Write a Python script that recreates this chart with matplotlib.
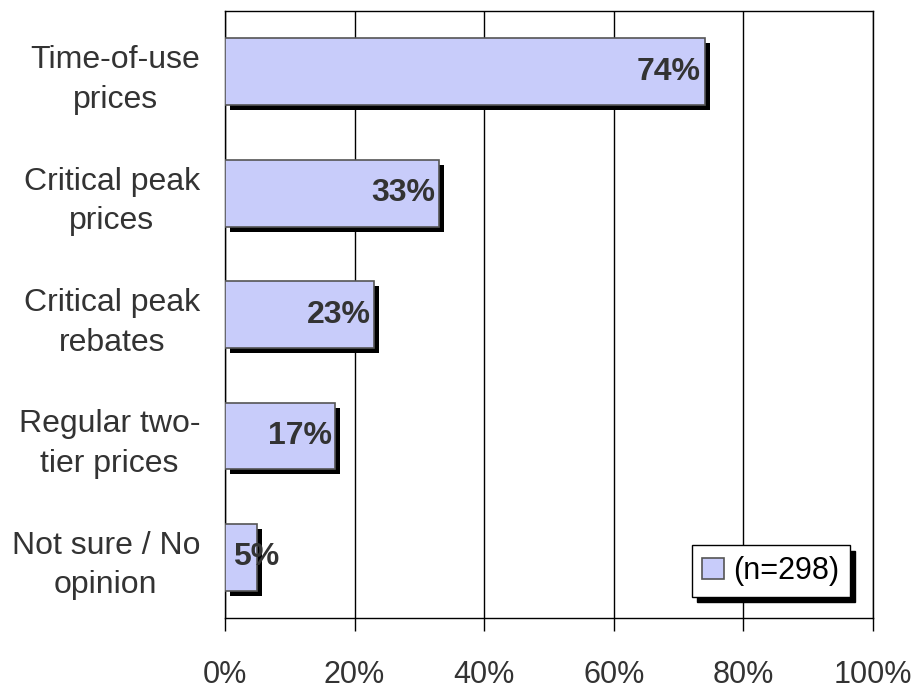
import matplotlib.pyplot as plt
from matplotlib.transforms import ScaledTranslation

plt.rcParams['font.family'] = ['Liberation Sans', 'DejaVu Sans']

categories = ['Time-of-use\nprices', 'Critical peak\nprices', 'Critical peak\nrebates',
              'Regular two-\ntier prices', 'Not sure / No\nopinion']
values = [74, 33, 23, 17, 5]
xticks = [0, 20, 40, 60, 80, 100]
xtick_labels = ['0%', '20%', '40%', '60%', '80%', '100%']
legend_label = '(n=298)'

bar_color = '#c8ccfa'
text_color = '#333333'

fig = plt.figure(figsize=(9.17, 6.9), dpi=100)
ax = fig.add_axes([0.2454, 0.1043, 0.7066, 0.8797])

pos = list(range(len(categories)))

# black drop shadow behind each bar
shadow = ax.barh(pos, values, height=0.55, color='black', zorder=2)
off = ScaledTranslation(5 / 100, -5 / 100, fig.dpi_scale_trans)
for p in shadow:
    p.set_transform(ax.transData + off)

bars = ax.barh(pos, values, height=0.55, color=bar_color, edgecolor='#555555',
               linewidth=1.2, zorder=3, label=legend_label)

# value labels inside the bar end, pushed right when the bar is short
for i, v in enumerate(values):
    if v < 10:
        ax.annotate(f'{v}%', (0, i), xytext=(6, 0), textcoords='offset points',
                    ha='left', va='center', fontsize=23, fontweight='bold',
                    color=text_color, zorder=4)
    else:
        ax.annotate(f'{v}%', (v, i), xytext=(-2.5, 0), textcoords='offset points',
                    ha='right', va='center', fontsize=23, fontweight='bold',
                    color=text_color, zorder=4)

ax.set_xlim(0, 100)
ax.set_ylim(len(categories) - 0.5, -0.5)
ax.set_xticks(xticks)
ax.set_xticklabels(xtick_labels, fontsize=22, color=text_color)
ax.set_yticks(pos)
ax.set_yticklabels(categories, fontsize=23, color=text_color,
                   multialignment='center', linespacing=1.42)
ax.tick_params(axis='x', length=9, width=1, pad=21)
ax.tick_params(axis='y', length=0, pad=18)

ax.xaxis.grid(True, color='black', linewidth=1)
ax.set_axisbelow(True)
for s in ax.spines.values():
    s.set_color('black')
    s.set_linewidth(1)

leg = ax.legend(loc='lower right', bbox_to_anchor=(0.964, 0.035), fontsize=22,
                frameon=True, fancybox=False, handlelength=0.7, handleheight=0.7,
                handletextpad=0.3, borderpad=0.35, borderaxespad=0, labelcolor='black',
                shadow={'facecolor': 'black', 'edgecolor': 'black', 'alpha': 1,
                        'ox': 4, 'oy': -4})
leg.get_frame().set_edgecolor('black')
leg.get_frame().set_linewidth(1)
leg.get_frame().set_alpha(1)

fig.savefig('out.png', dpi=100)
